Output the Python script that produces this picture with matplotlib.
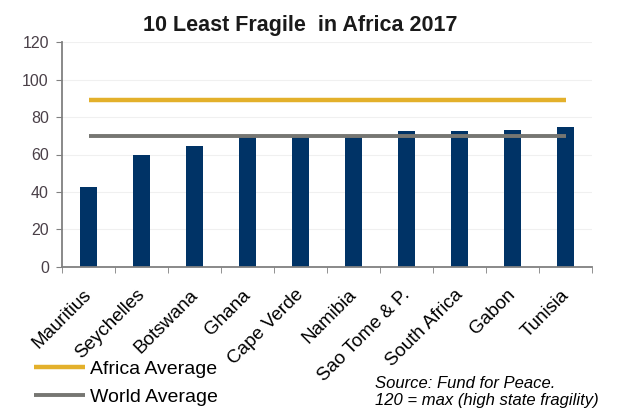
import matplotlib.pyplot as plt
import matplotlib.transforms as mtransforms
import numpy as np

# Fragile States Index 2017, ten least fragile African countries
countries = ['Mauritius', 'Seychelles', 'Botswana', 'Ghana', 'Cape Verde',
             'Namibia', 'Sao Tome & P.', 'South Africa', 'Gabon', 'Tunisia']
scores = [42.7, 59.6, 64.3, 69.4, 69.4, 69.5, 72.5, 72.6, 73.2, 74.5]
africa_avg = 89.0
world_avg = 70.0
yticks = [0, 20, 40, 60, 80, 100, 120]

plt.rcParams['font.family'] = ['Liberation Sans', 'DejaVu Sans']

fig = plt.figure(figsize=(6.2, 4.12), dpi=100)
ax = fig.add_axes([0.1, 0.352, 0.855, 0.546])

x = np.arange(len(countries))
ax.bar(x, scores, width=0.32, color='#003366', zorder=2)

# averages drawn from first to last bar
af, = ax.plot([x[0], x[-1]], [africa_avg, africa_avg], color='#E3B02B', lw=3.2,
              solid_capstyle='butt', zorder=3, label='Africa Average')
wd, = ax.plot([x[0], x[-1]], [world_avg, world_avg], color='#767672', lw=2.8,
              solid_capstyle='butt', zorder=3, label='World Average')

ax.set_xlim(-0.5, len(countries) - 0.5)
ax.set_ylim(0, 120)
ax.set_yticks(yticks)
ax.tick_params(axis='y', labelsize=11.5, length=4.5, pad=5, color='#808080',
               labelcolor='#4A4048')
ax.set_xticks(x)
ax.set_xticklabels(countries, rotation=45, ha='right', rotation_mode='anchor', fontsize=13.5)
ax.tick_params(axis='x', length=0, pad=14)
# nudge rotated labels a little to the left
shift = mtransforms.ScaledTranslation(-4 / 72, 0, fig.dpi_scale_trans)
for lbl in ax.get_xticklabels():
    lbl.set_transform(lbl.get_transform() + shift)
# minor ticks on category boundaries
ax.set_xticks(np.arange(-0.5, len(countries), 1), minor=True)
ax.tick_params(axis='x', which='minor', length=4, color='#808080')

ax.grid(axis='y', color='#F0F0F0', lw=0.8, zorder=0)
for s in ['top', 'right']:
    ax.spines[s].set_visible(False)
for s in ['left', 'bottom']:
    ax.spines[s].set_color('#808080')
    ax.spines[s].set_linewidth(1.3)

fig.text(0.485, 0.937, '10 Least Fragile  in Africa 2017', ha='center', va='center',
         fontsize=15.5, fontweight='bold', color='#1A1A1A')

fig.legend(handles=[af, wd], loc='center left', bbox_to_anchor=(0.027, 0.07),
           frameon=False, fontsize=14, handlelength=2.6, handletextpad=0.25,
           labelspacing=0.55)

fig.text(0.605, 0.07, 'Source: Fund for Peace.', fontsize=12, style='italic',
         va='center')
fig.text(0.605, 0.029, '120 = max (high state fragility)', fontsize=12,
         style='italic', va='center')

fig.savefig('out.png', dpi=100)
